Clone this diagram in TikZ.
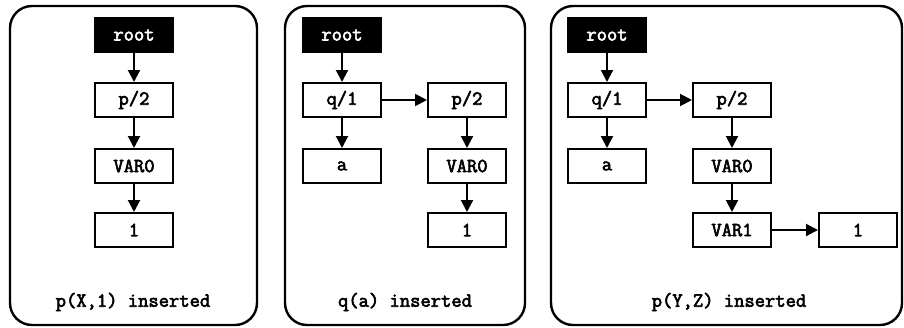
\documentclass[tikz,border=0pt]{standalone}
\usepackage{fontspec}
\setmonofont{Latin Modern Mono}[AutoFakeBold=3]
\usetikzlibrary{arrows.meta}

\begin{document}
\begin{tikzpicture}[x=1pt, y=-1pt, >={Triangle[length=12pt,width=12pt]},
    panel/.style={draw, line width=2.4pt, rounded corners=22pt},
    box/.style={draw, line width=2pt, minimum width=78pt, minimum height=34pt, inner sep=0pt, font=\ttfamily\bfseries\fontsize{20}{22}\selectfont},
    rootbox/.style={box, fill=black, text=white},
    caption/.style={font=\ttfamily\bfseries\fontsize{20}{22}\selectfont},
    link/.style={line width=2pt}]
    \useasboundingbox (0, 0) rectangle (904, 327);

    \draw [panel] (10, 6) rectangle (257, 325);
    \draw [panel] (285, 6) rectangle (525, 325);
    \draw [panel] (551, 6) rectangle (902, 325);

    \node [rootbox] (r1) at (134, 35) {root};
    \node [box] (p1) at (134, 100) {p/2};
    \node [box] (v1) at (134, 166) {VAR0};
    \node [box] (o1) at (134, 230) {1};
    \node [caption] (t1) at (133, 302) {p(X,1) inserted};

    \node [rootbox] (r2) at (342, 35) {root};
    \node [box] (q2) at (342, 100) {q/1};
    \node [box] (p2) at (467, 100) {p/2};
    \node [box] (a2) at (342, 166) {a};
    \node [box] (v2) at (467, 166) {VAR0};
    \node [box] (o2) at (467, 230) {1};
    \node [caption] (t2) at (405, 302) {q(a) inserted};

    \node [rootbox] (r3) at (607, 35) {root};
    \node [box] (q3) at (607, 100) {q/1};
    \node [box] (p3) at (732, 100) {p/2};
    \node [box] (a3) at (607, 166) {a};
    \node [box] (v3) at (732, 166) {VAR0};
    \node [box] (w3) at (732, 230) {VAR1};
    \node [box] (o3) at (858, 230) {1};
    \node [caption] (t3) at (729, 302) {p(Y,Z) inserted};

    \draw [link, ->] (r1) to (p1);
    \draw [link, ->] (p1) to (v1);
    \draw [link, ->] (v1) to (o1);

    \draw [link, ->] (r2) to (q2);
    \draw [link, ->] (q2) to (p2);
    \draw [link, ->] (q2) to (a2);
    \draw [link, ->] (p2) to (v2);
    \draw [link, ->] (v2) to (o2);

    \draw [link, ->] (r3) to (q3);
    \draw [link, ->] (q3) to (p3);
    \draw [link, ->] (q3) to (a3);
    \draw [link, ->] (p3) to (v3);
    \draw [link, ->] (v3) to (w3);
    \draw [link, ->] (w3) to (o3);

\end{tikzpicture}
\end{document}
